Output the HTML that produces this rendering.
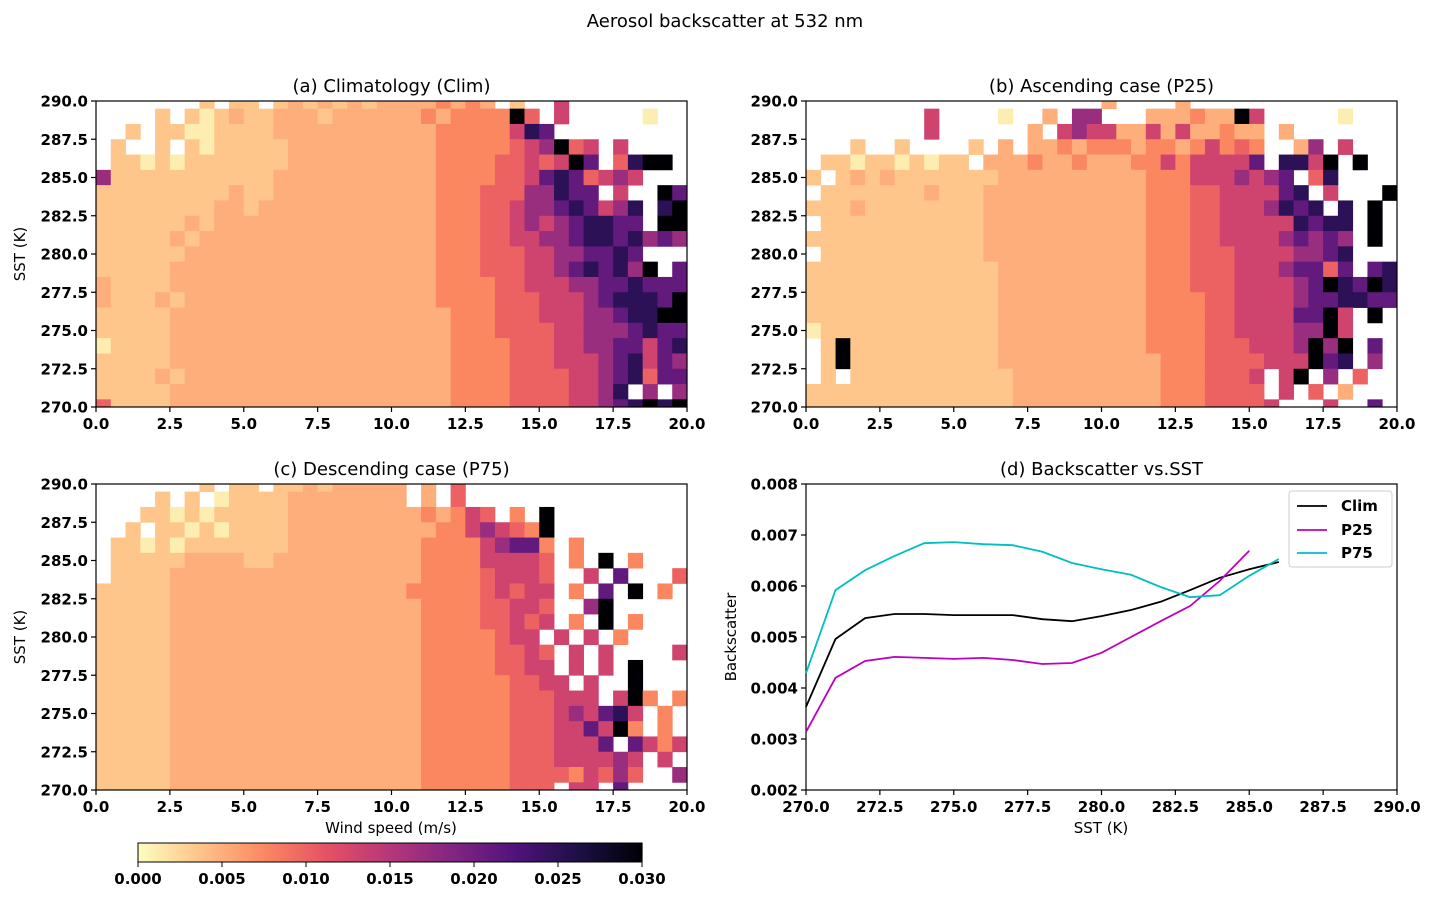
<!DOCTYPE html>
<html><head><meta charset="utf-8"><style>
html,body{margin:0;padding:0;background:#fff}
svg{display:block;font-family:"DejaVu Sans","Liberation Sans",sans-serif}
.tk{font-size:15px;font-weight:bold;fill:#000}
.ttl{font-size:18px;fill:#000}
.lab{font-size:15px;fill:#000}
</style></head><body>
<svg id="fig" width="1435" height="897" viewBox="0 0 1435 897">
<text x="725" y="27" text-anchor="middle" class="ttl">Aerosol backscatter at 532 nm</text>
</svg>
<script>
// Level codes: '.' = no data, digits index into levels (backscatter values)
const levels = [0.001,0.0035,0.005,0.0075,0.010,0.013,0.017,0.021,0.025,0.030];
// Rows from SST 290 (top) down to 270; 40 columns of 0.5 m/s (groups of 5 m/s)
const heatA = [
".......1.1 1.12121212 2223232.1. .5........",
"....1.1012 1122212222 2232333394 .5.....0..",
"..1.110011 1122222222 2223333358 7.........",
".1..1.1011 1112222222 2223333345 6945.5....",
".110101111 1112222222 2223333445 4597.4899.",
"6111111111 1122222222 2223333445 7874565...",
"1111111112 1122222222 2223334446 6877.5..97",
"1111111122 1222222222 2223334456 6787568.89",
"1111112122 2222222222 2223334456 5678877.99",
"1111121222 2222222222 2223334455 6678878676",
"1111112222 2222222222 2223334445 5667787...",
"1111122222 2222222222 2223334445 56787869.7",
"2111122222 2222222222 2223333445 5566778777",
"2111212222 2222222222 2223333444 5556788879",
"1111122222 2222222222 2222333444 5556678899",
"1111122222 2222222222 2222333444 4556667877",
"0111122222 2222222222 2222333344 4556677578",
"1111122222 2222222222 2222333344 4555678576",
"1111212222 2222222222 2222333344 4455678477",
"1111122222 2222222222 2222333344 445568.6.6",
"4111122222 2222222222 2222333344 4455678989"];
const heatB = [
".......... .......... 2....2.... ..........",
"........5. ...0..2.66 ...2223229 5.....0...",
"........5. .....2.565 5225252232 2.2.......",
"...1..1... .1.2.22323 3323323534 3..26.5...",
".110110101 1.22232232 2233535555 7.8859.9..",
"1.12121111 1112222222 2223335556 567.48....",
".111111121 1122222222 2223334455 5578.5...9",
"1112111111 1122222222 2223334455 56878.8.9.",
".111111111 1122222222 2223334455 5558788.9.",
"1111111111 1122222222 2223334455 5567676.9.",
".111111111 1122222222 2223334445 5556678...",
"1111111111 1112222222 2223334445 5567747.78",
"1111111111 1112222222 2223334445 5556798798",
"1111111111 1112222222 2223333445 5556778877",
"1111111111 1112222222 2223333445 5557795.9.",
"0111111111 1112222222 2223333445 5556695...",
".191111111 1112222222 2223333444 5556969.7.",
".191111111 1112222222 2222333444 4555978.6.",
".1.1111111 1111222222 2222333444 5.59.6.4..",
"1111111111 1111222222 2222333444 4.5.4.2...",
"1111111111 1111222222 2222333444 45...5..7."];
const heatC = [
".......1.1 1.11212222 2.2.4..... ..........",
"....1.1.01 1112222222 2.2.4..... ..........",
"...1101011 1112222222 2232354.3. 9.........",
"..1.110101 1112222222 2223356543 9.........",
".110101111 1112222222 2233335677 3.3.......",
".111112222 1122222222 2233335555 4.3.9.3...",
".111122222 2222222222 2233334555 4..5.7...4",
"1111122222 2222222222 2333334545 5.3.7.9.3.",
"1111122222 2222222222 2233334455 4..69.....",
"1111122222 2222222222 2233334454 5.3.9.3...",
"1111122222 2222222222 2233333455 .5.5.3....",
"1111122222 2222222222 2233333445 4.5.5....5",
"1111122222 2222222222 2233333445 5.5.5.9...",
"1111122222 2222222222 2233333344 55.5..9...",
"1111122222 2222222222 2233333344 4555.593.3",
"1111122222 2222222222 2233333344 4565785.3.",
"1111122222 2222222222 2233333344 4557593.3.",
"1111122222 2222222222 2233333344 45557.7535",
"1111122222 2222222222 2233333344 4555565.5.",
"1111122222 2222222222 2233333344 4435464..6",
"1111122222 2222222222 2233333344 4.55.7...."];
const windTicks = [0,2.5,5,7.5,10,12.5,15,17.5,20];
const sstTicks = [270,272.5,275,277.5,280,282.5,285,287.5,290];
const bsTicks = [0.002,0.003,0.004,0.005,0.006,0.007,0.008];
const cbTicks = [0,0.005,0.010,0.015,0.020,0.025,0.030];
const sstLine = [270,271,272,273,274,275,276,277,278,279,280,281,282,283,284,285,286];
const climVals = [0.00363,0.00496,0.00537,0.00545,0.00545,0.00543,0.00543,0.00543,0.00535,0.00531,0.00541,0.00553,0.00569,0.00592,0.00616,0.00633,0.00647];
const p25Vals = [0.00314,0.0042,0.00453,0.00461,0.00459,0.00457,0.00459,0.00455,0.00447,0.00449,0.00469,0.005,0.00531,0.00561,0.0061,0.00669];
const p75Vals = [0.00429,0.00592,0.00631,0.00659,0.00684,0.00686,0.00682,0.0068,0.00667,0.00645,0.00633,0.00622,0.00598,0.00578,0.00582,0.0062,0.00653];

const NS='http://www.w3.org/2000/svg';
const svg=document.getElementById('fig');
function el(tag,attrs,parent){const e=document.createElementNS(NS,tag);for(const k in attrs)e.setAttribute(k,attrs[k]);(parent||svg).appendChild(e);return e;}
const magma=[[0,0,4],[28,16,68],[79,18,123],[129,37,129],[181,54,122],[229,80,100],[251,135,97],[254,194,135],[252,253,191]];
function cmap(v){let s=Math.max(0,Math.min(1,v/0.03));let t=(1-s)*8;let i=Math.min(7,Math.floor(t));let f=t-i;const a=magma[i],b=magma[i+1];return 'rgb('+a.map((c,k)=>Math.round(c+(b[k]-c)*f)).join(',')+')';}
function lin(d0,d1,r0,r1){return v=>r0+(v-d0)/(d1-d0)*(r1-r0);}
const W=591,H=306;
function axes(x0,y0,xd,yd,xt,yt,fmtX,fmtY,name){
  const g=el('g',{});
  
  
  const xs=lin(xd[0],xd[1],x0,x0+W), ys=lin(yd[0],yd[1],y0+H,y0);
  return {g,xs,ys,x0,y0,xt,yt,fmtX,fmtY,name};
}
function frame(A){
  el('rect',{x:A.x0,y:A.y0,width:W,height:H,fill:'none',stroke:'#000','stroke-width':1.2},A.g);
  A.xt.forEach(v=>{const x=A.xs(v);
    el('line',{x1:x,x2:x,y1:A.y0+H,y2:A.y0+H+5,stroke:'#000','stroke-width':1.2},A.g);
    const t=el('text',{x:x,y:A.y0+H+22,'text-anchor':'middle',class:'tk'},A.g);t.textContent=A.fmtX(v);
    
    });
  A.yt.forEach(v=>{const y=A.ys(v);
    el('line',{x1:A.x0-5,x2:A.x0,y1:y,y2:y,stroke:'#000','stroke-width':1.2},A.g);
    const t=el('text',{x:A.x0-8,y:y+5.5,'text-anchor':'end',class:'tk'},A.g);t.textContent=A.fmtY(v);
    
    });
}
function heat(A,rows,id){
  const cpEl=el('clipPath',{id:id},svg);
  el('rect',{x:A.x0,y:A.y0,width:W,height:H},cpEl);
  const hg=el('g',{'clip-path':'url(#'+id+')'},A.g);
  rows.forEach((r,i)=>{const s=r.replace(/ /g,'');const sst=290-i;
    for(let j=0;j<s.length&&j<40;j++){const ch=s[j];if(ch==='.')continue;
      const v=levels[+ch];const x=A.xs(j*0.5),x2=A.xs(j*0.5+0.5),y=A.ys(sst+0.5),y2=A.ys(sst-0.5);
      const c=el('rect',{x:x,y:y,width:x2-x+0.4,height:y2-y+0.4,fill:cmap(v)},hg);
      
      }});
}
function title(A,txt){const t=el('text',{x:A.x0+W/2,y:A.y0-9,'text-anchor':'middle',class:'ttl'},A.g);t.textContent=txt;
  
  }
function label(txt,x,y,rot,name){const t=el('text',{x:x,y:y,'text-anchor':'middle',class:'lab',transform:rot?'rotate(-90 '+x+' '+y+')':''});t.textContent=txt;
  
  }
const f1=v=>v.toFixed(1), f3=v=>v.toFixed(3);
const A=axes(96,101,[0,20],[270,290],windTicks,sstTicks,f1,f1,'panel-a');
heat(A,heatA,'cA');frame(A);title(A,'(a) Climatology (Clim)');
const B=axes(806,101,[0,20],[270,290],windTicks,sstTicks,f1,f1,'panel-b');
heat(B,heatB,'cB');frame(B);title(B,'(b) Ascending case (P25)');
const C=axes(96,484,[0,20],[270,290],windTicks,sstTicks,f1,f1,'panel-c');
heat(C,heatC,'cC');frame(C);title(C,'(c) Descending case (P75)');
const D=axes(806,484,[270,290],[0.002,0.008],sstTicks,bsTicks,f1,f3,'panel-d');
frame(D);title(D,'(d) Backscatter vs.SST');
label('SST (K)',25,254,true,'y-axis-title-a');
label('SST (K)',25,637,true,'y-axis-title-c');
label('Wind speed (m/s)',391,833,false,'x-axis-title-c');
label('SST (K)',1101,833,false,'x-axis-title-d');
label('Backscatter',736,637,true,'y-axis-title-d');
function line(vals,color,name){const pts=vals.map((v,i)=>D.xs(sstLine[i]).toFixed(1)+','+D.ys(v).toFixed(1)).join(' ');
  const p=el('polyline',{points:pts,fill:'none',stroke:color,'stroke-width':1.8},D.g);
  
  }
line(climVals,'#000','clim-line');line(p25Vals,'#bf00bf','p25-line');line(p75Vals,'#00bfbf','p75-line');
const lg=el('g',{});


el('rect',{x:1289,y:491,width:103,height:76,rx:3,fill:'#fff',stroke:'#ccc'},lg);
[['Clim','#000',506],['P25','#bf00bf',530],['P75','#00bfbf',553]].forEach(([n,c,y])=>{
  el('line',{x1:1297,x2:1327,y1:y,y2:y,stroke:c,'stroke-width':1.8},lg);
  const t=el('text',{x:1341,y:y+5,class:'tk'},lg);t.textContent=n;
  
  });
const cb=el('g',{});


const cbx=lin(0,0.03,138,642);
for(let i=0;i<252;i++){const v=0.03*i/252;el('rect',{x:cbx(v),y:843,width:2.6,height:19,fill:cmap(v)},cb);}
el('rect',{x:138,y:843,width:504,height:19,fill:'none',stroke:'#000','stroke-width':1},cb);
cbTicks.forEach(v=>{const x=cbx(v);el('line',{x1:x,x2:x,y1:862,y2:867,stroke:'#000'},cb);
  const t=el('text',{x:x,y:884,'text-anchor':'middle',class:'tk'},cb);t.textContent=v.toFixed(3);
  
  });
</script>
</body></html>
